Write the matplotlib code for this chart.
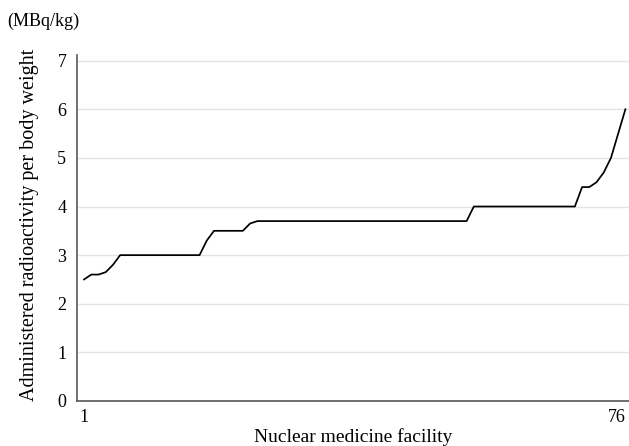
import matplotlib.pyplot as plt
import numpy as np

# facilities sorted by administered activity per body weight (MBq/kg)
facility = np.arange(1, 77)
dose = ([2.5, 2.6, 2.6, 2.65, 2.8]
        + [3.0] * 12
        + [3.3]
        + [3.5] * 5
        + [3.65]
        + [3.7] * 30
        + [4.0] * 15
        + [4.4, 4.4, 4.5, 4.7, 5.0, 5.5, 6.0])
xticks = [1, 76]
yticks = list(range(0, 8))

plt.rcParams['font.family'] = ['Liberation Serif', 'DejaVu Serif']

fig = plt.figure(figsize=(6.29, 4.46), dpi=100)
ax = fig.add_axes([0.123, 0.101, 0.877, 0.776])

ax.plot(facility, dose, color='black', lw=1.25)

ax.set_xlim(0.07, 76.5)
ax.set_ylim(0, 7.12)
ax.set_xticks(xticks)
ax.set_yticks(yticks)
ax.tick_params(length=0, labelsize=13, colors='black')
ax.tick_params(axis='y', pad=8)
ax.tick_params(axis='x', pad=6)
ax.get_xticklabels()[-1].set_ha('right')
ax.grid(axis='y', color='#e3e3e3', lw=1)
ax.set_axisbelow(True)

for s in ['top', 'right']:
    ax.spines[s].set_visible(False)
for s in ['left', 'bottom']:
    ax.spines[s].set_color('#595959')
    ax.spines[s].set_linewidth(1.2)

ax.set_ylabel('Administered radioactivity per body weight', fontsize=14.5)
ax.yaxis.set_label_coords(-0.069, 0.51)
ax.set_xlabel('Nuclear medicine facility', fontsize=14)
ax.xaxis.set_label_coords(0.5, -0.078)
fig.text(0.012, 0.952, '(MBq/kg)', fontsize=13, va='center', ha='left')

fig.savefig('out.png', dpi=100)
